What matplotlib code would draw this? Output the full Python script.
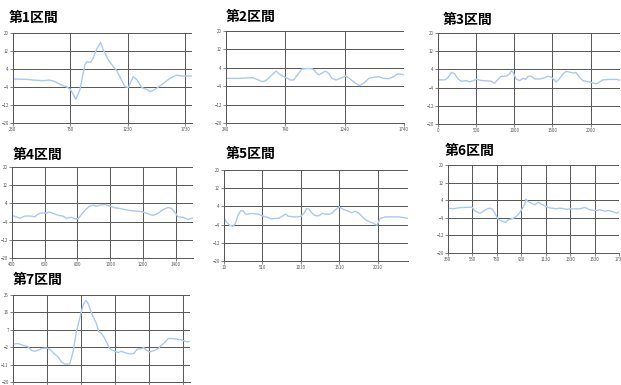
import matplotlib
matplotlib.use("Agg")
import matplotlib.pyplot as plt

plt.rcParams['font.family'] = ['Noto Sans CJK JP', 'DejaVu Sans']

# section titles
titles = ["第1区間", "第2区間", "第3区間", "第4区間", "第5区間", "第6区間", "第7区間"]

# data for each section (distance, value)
x1 = [230, 346, 405, 492, 550, 594, 652, 696, 731, 777, 812, 856, 876, 906, 929, 958, 993, 1016,
      1060, 1104, 1133, 1176, 1206, 1235, 1278, 1307, 1351, 1395, 1430, 1482, 1540, 1599, 1657, 1701, 1788]
y1 = [-0.45, -0.6, -0.9, -1.2, -0.9, -1.6, -3.1, -3.9, -5.1, -9.4, -5.4, 5.8, 7.3, 6.9, 8.8, 12.8, 15.8, 12.5,
      8.1, 5.1, 3.3, -0.9, -3.9, -4.2, 0.6, -0.6, -4.2, -5.1, -6.1, -4.6, -2.4, -0.1, 1.3, 0.9, 0.9]

x2 = [240, 347, 459, 487, 543, 572, 628, 662, 698, 740, 782, 810, 853, 881, 937, 971, 993, 1021, 1049,
      1077, 1105, 1134, 1167, 1204, 1246, 1280, 1330, 1364, 1401, 1443, 1485, 1527, 1569, 1611, 1653, 1682, 1724, 1743]
y2 = [-0.6, -0.6, -0.3, -0.7, -2.0, -1.7, 0.9, 2.6, 0.9, -0.1, -1.3, -1.3, 1.6, 3.5, 3.7, 3.5, 2.3, 0.9, 1.6,
      2.6, 1.6, -0.6, -1.3, -0.6, 0.4, -0.6, -2.7, -3.7, -2.7, -0.6, -0.1, 0.1, -0.6, -0.7, 0.1, 1.3, 1.2, 0.9]

x3 = [0, 87, 131, 175, 218, 262, 306, 371, 415, 459, 502, 568, 633, 699, 742, 786, 830, 895, 939, 961,
      983, 1026, 1070, 1114, 1149, 1179, 1223, 1266, 1332, 1397, 1441, 1485, 1550, 1594, 1638, 1681, 1725,
      1769, 1804, 1847, 1900, 1987, 2074, 2118, 2162, 2249, 2336, 2380]
y3 = [-0.6, -0.6, 0.4, 2.7, 2.1, -0.2, -1.2, -0.9, -1.5, -1.0, -0.3, -0.9, -1.0, -1.2, -2.1, -0.3, 1.0,
      1.0, 2.1, 3.4, 2.7, -0.3, -0.9, 0.0, -0.3, 0.9, 1.0, -0.2, -0.2, 0.3, 1.0, 0.6, -1.5, 0.0, 2.1, 3.1,
      2.8, 2.4, 2.7, 0.9, -1.0, -1.5, -2.4, -1.5, -0.6, -0.4, -0.4, -0.7]

x4 = [400, 426, 451, 477, 508, 539, 559, 579, 610, 630, 651, 681, 712, 732, 763, 783, 803, 824, 850, 875,
      895, 915, 936, 966, 997, 1027, 1058, 1088, 1119, 1160, 1190, 1221, 1262, 1292, 1323, 1353, 1374,
      1394, 1414, 1445, 1476, 1506]
y4 = [-1.3, -1.9, -2.5, -1.6, -1.5, -1.9, -0.7, -0.2, -0.3, 0.2, -0.4, -1.2, -1.6, -2.5, -2.1, -2.7, -2.8,
      -0.9, 1.3, 2.8, 3.2, 2.8, 3.2, 3.5, 2.8, 2.1, 1.8, 1.3, 0.9, 0.6, 0.4, -0.3, -1.3, -0.4, 1.3, 2.2, 1.8,
      0.2, -1.9, -2.1, -3.1, -2.4]

x5 = [10, 40, 84, 127, 158, 193, 227, 258, 288, 323, 367, 453, 519, 584, 627, 671, 723, 767, 810, 845,
      910, 975, 1010, 1054, 1084, 1114, 1149, 1193, 1236, 1288, 1323, 1375, 1410, 1453, 1506, 1540, 1584,
      1627, 1671, 1714, 1758, 1801, 1845, 1910, 1954, 1997, 2041, 2106, 2193, 2280, 2345, 2401]
y5 = [-0.9, -2.8, -4.3, -4.7, -3.5, 0.2, 2.1, 2.1, 0.6, 0.6, 0.9, 0.6, -0.3, -0.9, -1.5, -1.3, -1.2, -0.3,
      0.6, -0.3, -0.6, -0.6, -0.3, 1.2, 3.1, 2.8, 1.2, 0.0, -0.2, 0.9, 0.6, 0.6, 0.9, 2.4, 3.8, 3.1, 2.4,
      1.9, 1.2, 1.9, 1.2, -0.3, -1.8, -2.9, -3.5, -4.3, -1.3, -0.6, -0.6, -0.6, -0.9, -1.3]

x6 = [330, 371, 412, 453, 508, 527, 549, 576, 595, 617, 645, 672, 694, 713, 740, 768, 803, 822, 850, 877,
      904, 932, 959, 967, 986, 1014, 1041, 1068, 1096, 1123, 1164, 1219, 1246, 1301, 1356, 1410, 1451,
      1492, 1533, 1574, 1615, 1643, 1684, 1711, 1730]
y6 = [0.4, 0.1, 0.5, 0.7, 0.8, 0.8, -0.7, -1.6, -1.9, -1.1, -0.1, 0.4, -0.1, -1.9, -4.6, -5.4, -6.1, -4.9,
      -4.5, -3.9, -2.6, -0.4, 2.3, 4.5, 3.4, 2.6, 1.9, 3.1, 2.2, 1.4, 0.5, 0.1, 0.4, -0.1, 0.1, 0.1, 0.7,
      -0.4, -0.7, -0.4, -1.0, -0.7, -1.3, -1.9, -1.3]

x7 = [0, 74, 147, 221, 270, 319, 368, 417, 490, 539, 588, 662, 711, 760, 833, 882, 931, 980, 1029, 1068,
      1103, 1137, 1176, 1225, 1259, 1299, 1333, 1372, 1421, 1495, 1544, 1593, 1642, 1715, 1774, 1823, 1887,
      1921, 1960, 2009, 2083, 2132, 2181, 2230, 2279, 2328, 2401, 2475, 2548, 2587]
y7 = [-0.4, -0.1, -1.0, -1.8, -3.6, -4.1, -3.6, -2.7, -2.4, -3.0, -4.8, -7.0, -9.6, -10.7, -10.7, -4.4,
      6.0, 12.9, 19.8, 22.1, 20.7, 17.2, 13.8, 10.3, 6.0, 5.1, 3.4, 0.8, -2.7, -4.1, -4.8, -4.1, -4.8, -5.5,
      -5.3, -3.0, -2.7, -2.2, -3.6, -4.4, -3.6, -2.7, -1.0, 0.4, 2.5, 2.5, 2.2, 1.8, 0.8, 0.9]

xs = [x1, x2, x3, x4, x5, x6, x7]
ys = [y1, y2, y3, y4, y5, y6, y7]

xticks = [
    [230, 730, 1230, 1730],
    [240, 740, 1240, 1740],
    [0, 500, 1000, 1500, 2000],
    [400, 600, 800, 1000, 1200, 1400],
    [10, 510, 1010, 1510, 2010],
    [330, 530, 730, 930, 1130, 1330, 1530, 1730],
    [0, 500, 1000, 1500, 2000, 2500],
]
xlims = [(230, 1790), (240, 1740), (0, 2385), (400, 1506), (10, 2401), (330, 1730), (0, 2600)]
yticks_std = [-20, -12, -4, 4, 12, 20]
yticks7 = [-20, -11, -2, 7, 16, 25]

# axes boxes in pixels: left, top, right, bottom
boxes = [(13, 33, 192, 123), (226, 31, 404, 123), (438, 33, 620, 124),
         (12, 167, 193, 258), (224, 170, 408, 261), (448, 165, 619, 253),
         (13, 295, 190, 382)]
title_pos = [(9, 18), (226, 17), (443, 20), (13, 155), (226, 154), (445, 151), (13, 280)]

W, H = 621, 385
fig = plt.figure(figsize=(W / 100, H / 100), dpi=100)

for i in range(7):
    l, t, r, b = boxes[i]
    ax = fig.add_axes([l / W, 1 - b / H, (r - l) / W, (b - t) / H])
    ax.plot(xs[i], ys[i], color="#a9c9f5", lw=1.0)
    ax.set_xlim(*xlims[i])
    yt = yticks7 if i == 6 else yticks_std
    ax.set_ylim(yt[0], yt[-1])
    ax.set_yticks(yt)
    ax.set_xticks(xticks[i])
    ax.grid(True, color="#555555", lw=0.7)
    ax.set_axisbelow(True)
    for s in ["top", "right"]:
        ax.spines[s].set_visible(False)
    for s in ["left", "bottom"]:
        ax.spines[s].set_color("#555555")
        ax.spines[s].set_linewidth(0.7)
    ax.tick_params(labelsize=3.2, colors="#555555", length=2, width=0.5, pad=1)
    if i == 6:
        # the last chart's distance labels fall below the picture
        ax.tick_params(axis="x", labelbottom=False)
    fig.text(title_pos[i][0] / W, 1 - title_pos[i][1] / H, titles[i],
             fontsize=10, fontweight="bold", ha="left", va="center")

fig.savefig("out.png", dpi=100)
